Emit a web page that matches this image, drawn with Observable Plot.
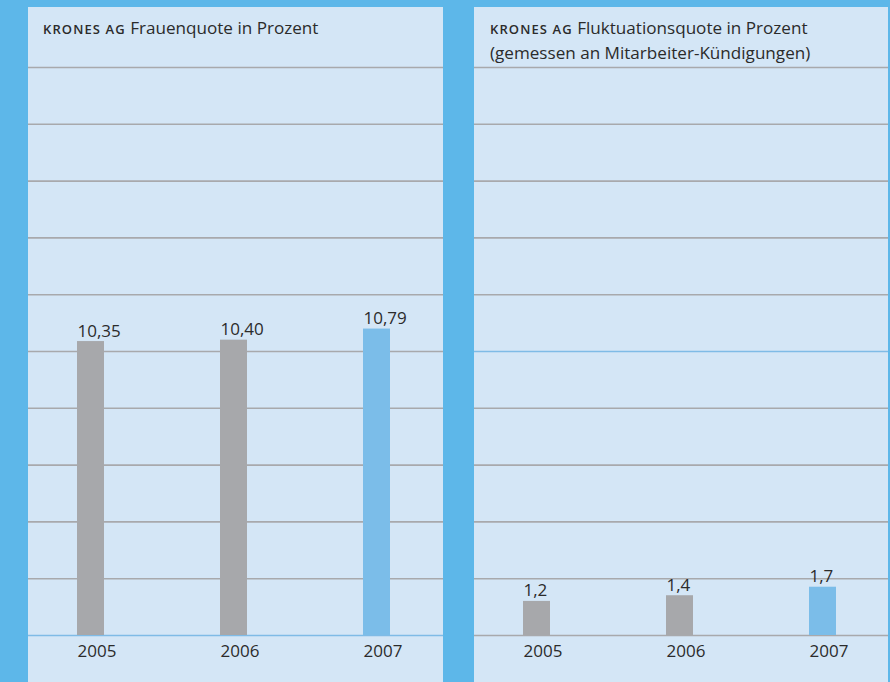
<!DOCTYPE html>
<html>
<head>
<meta charset="utf-8">
<script src="https://cdn.jsdelivr.net/npm/d3@7"></script>
<script src="https://cdn.jsdelivr.net/npm/@observablehq/plot@0.6"></script>
<style>
  html, body { margin: 0; padding: 0; }
  body { width: 890px; height: 682px; background: #5db7e9; position: relative; overflow: hidden; font-family: "Open Sans", sans-serif; }
  .panel { position: absolute; top: 7px; height: 675px; background: #d4e6f6; }
  .title { position: absolute; left: 15px; top: 9px; font-size: 17.1px; line-height: 23px; color: #2b2b2b; z-index: 2; white-space: nowrap; }
  .brand { font-size: 13px; font-weight: 600; letter-spacing: 1.1px; }
  .panel svg { position: absolute; left: 0; top: 0; }
</style>
</head>
<body>
<div class="panel" id="p1" style="left:28px;width:415px;">
  <div class="title"><span class="brand">KRONES AG</span> Frauenquote in Prozent</div>
</div>
<div class="panel" id="p2" style="left:474px;width:414px;">
  <div class="title" style="left:16px"><span class="brand">KRONES AG</span> Fluktuationsquote in Prozent<br>(gemessen an Mitarbeiter-Kündigungen)</div>
</div>
<script>
const years = ["2005", "2006", "2007"];
const frauenquote = [10.35, 10.40, 10.79];
const fluktuationsquote = [1.2, 1.4, 1.7];
const gridTicks = [2, 4, 6, 8, 10, 12, 14, 16, 18, 20];
const barColors = ["#a7a8ab", "#a7a8ab", "#7bbde9"];

function makeChart(values, decimals, width, blueLine) {
  const data = years.map((y, i) => ({year: y, value: values[i], color: barColors[i],
    label: values[i].toFixed(decimals).replace(".", ",")}));
  const grayTicks = gridTicks.filter(t => t !== blueLine);
  const allGray = blueLine === 0 ? grayTicks : grayTicks.concat([0]);
  return Plot.plot({
    width, height: 675,
    marginTop: 60, marginBottom: 47, marginLeft: 0, marginRight: 0,
    style: {fontFamily: "Open Sans", fontSize: "17px", color: "#2b2b2b", background: "transparent", overflow: "visible"},
    x: {type: "band", domain: years, padding: 0.812, paddingOuter: 0.352, align: 0.48, label: null},
    y: {domain: [0, 20], axis: null},
    marks: [
      Plot.ruleY(allGray, {stroke: "#a8a9ac", strokeWidth: 1.6}),
      Plot.ruleY([blueLine], {stroke: "#7fbbe6", strokeWidth: 1.6}),
      Plot.barY(data, {x: "year", y: "value", fill: "color"}),
      Plot.text(data, {x: "year", y: "value", text: "label", lineAnchor: "bottom", textAnchor: "start", dx: -13.5, dy: -5, fontSize: 17}),
      Plot.axisX({tickSize: 0, tickPadding: 9, fontSize: 17, label: null, textAnchor: "start", dx: -13.5})
    ]
  });
}

document.getElementById("p1").appendChild(makeChart(frauenquote, 2, 415, 0));
document.getElementById("p2").appendChild(makeChart(fluktuationsquote, 1, 414, 10));
</script>
</body>
</html>
